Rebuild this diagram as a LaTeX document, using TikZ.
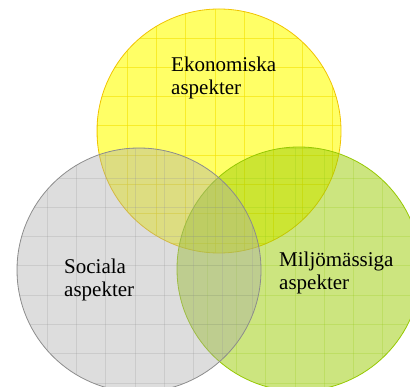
\documentclass[tikz,border=0pt]{standalone}
\usepackage{fontspec}
\setmainfont{Liberation Serif}
\definecolor{yfill}{RGB}{255,255,0}
\definecolor{ygrid}{RGB}{245,225,0}
\definecolor{yline}{RGB}{240,195,0}
\definecolor{gfill}{RGB}{153,204,0}
\definecolor{ggrid}{RGB}{150,200,20}
\definecolor{gline}{RGB}{150,200,0}
\definecolor{sfill}{RGB}{170,170,170}
\definecolor{sgrid}{RGB}{150,150,150}
\definecolor{sline}{RGB}{140,140,140}
\tikzset{
  label/.style={font=\fontsize{21}{23}\selectfont, align=left, anchor=base west, inner sep=0pt, text=black},
  gridline/.style={line width=0.8pt, opacity=0.25},
}
\begin{document}
\begin{tikzpicture}[x=1pt,y=-1pt]
\useasboundingbox (0,0) rectangle (410,387);
\clip (0,0) rectangle (410,387);
\coordinate (Y) at (219,131);
\coordinate (G) at (299,269);
\coordinate (S) at (139,270);
% yellow circle
\fill[yfill, fill opacity=0.6] (Y) circle (122);
\begin{scope}
  \clip (Y) circle (122);
  \foreach \k in {-1,...,7} \draw[gridline, ygrid, opacity=0.6] (127+29.3*\k,0) -- (127+29.3*\k,387);
  \foreach \k in {-1,...,8} \draw[gridline, ygrid, opacity=0.6] (0,38+29.3*\k) -- (410,38+29.3*\k);
\end{scope}
\draw[yline, line width=0.8pt] (Y) circle (122);
% green circle
\fill[gfill, fill opacity=0.5] (G) circle (122);
\begin{scope}
  \clip (G) circle (122);
  \foreach \k in {-1,...,7} \draw[gridline, ggrid] (207+29.3*\k,0) -- (207+29.3*\k,387);
  \foreach \k in {-1,...,8} \draw[gridline, ggrid] (0,178+29.3*\k) -- (410,178+29.3*\k);
\end{scope}
\draw[gline, line width=0.8pt] (G) circle (122);
% grey circle
\fill[sfill, fill opacity=0.4] (S) circle (122);
\begin{scope}
  \clip (S) circle (122);
  \foreach \k in {-1,...,8} \draw[gridline, sgrid] (47+29.3*\k,0) -- (47+29.3*\k,387);
  \foreach \k in {-1,...,8} \draw[gridline, sgrid] (0,178+29.3*\k) -- (410,178+29.3*\k);
\end{scope}
\draw[sline, line width=0.8pt] (S) circle (122);
% labels (base anchor = baseline of the last line)
\node[label] (eko) at (171,95) {Ekonomiska\\aspekter};
\node[label] (soc) at (64,297) {Sociala\\aspekter};
\node[label] (mil) at (279,290) {Miljömässiga\\aspekter};
\end{tikzpicture}
\end{document}
